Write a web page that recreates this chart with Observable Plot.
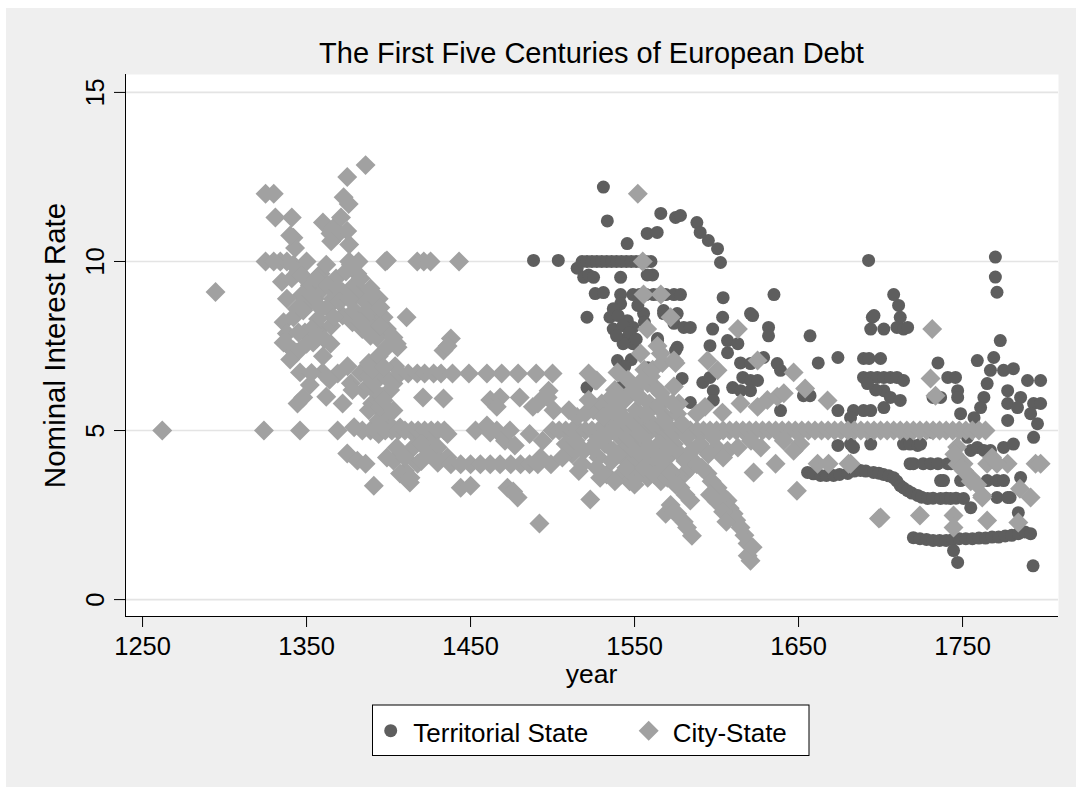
<!DOCTYPE html>
<html><head><meta charset="utf-8">
<script src="https://cdn.jsdelivr.net/npm/d3@7"></script>
<script src="https://cdn.jsdelivr.net/npm/@observablehq/plot@0.6"></script>
<style>
body{margin:0;background:#fff;}
#wrap{position:relative;width:1076px;height:787px;overflow:hidden;font-family:"Liberation Sans",Arial,Helvetica,sans-serif;}
#panel{position:absolute;left:6px;top:8px;width:1070px;height:779px;background:#efefef;}
#chart{position:absolute;left:0;top:0;}
#overlay{position:absolute;left:0;top:0;pointer-events:none;}
</style>
</head><body>
<div id="wrap"><div id="panel"></div><div id="chart"></div>
<svg id="overlay" width="1076" height="787" font-family="Liberation Sans, Arial, Helvetica, sans-serif"></svg></div>
<script>
const titleText = "The First Five Centuries of European Debt";
const xLabel = "year";
const yLabel = "Nominal Interest Rate";
const seriesNames = ["Territorial State", "City-State"];
const xTicks = [1250, 1350, 1450, 1550, 1650, 1750];
const yTicks = [0, 5, 10, 15];

// Territorial State: [year, nominal interest rate]
const territorial = [
[1488.4,10.03],[1503.5,10.03],[1515,9.8],
[1518,10],[1521,10],[1524,10],[1527,10],[1530,10],[1533,10],[1536,10],[1539,10],[1542,10],[1545,10],[1548,10],[1551,10],[1554,10],[1557,10],[1560,10],
[1531,12.2],[1533.4,11.2],[1545.5,10.53],[1557.7,10.83],[1563.8,10.86],[1566,11.42],[1575,11.3],[1578,11.36],[1588,11.15],[1590,10.86],[1595,10.62],[1600.6,10.38],[1602.4,9.97],[1561,9.6],
[1519,9.53],[1522,9.6],[1525,9.53],[1541.5,9.53],[1557.7,9.6],[1526,9.05],[1531,9.08],[1541.5,9.02],[1541.5,8.75],
[1549,9.02],[1553,9.02],[1557,9.02],[1561.6,9.02],[1565,9.02],[1569,9.02],[1574,9.02],[1578,9.02],
[1521,8.35],[1535,8.35],[1537,8.0],[1545.6,8.25],[1549,8.05],[1555.5,8.46],[1545.6,7.75],[1549,7.57],[1543,7.57],[1567.7,8.46],[1574,8.17],[1576,7.46],[1564,7.72],[1539.6,7.07],[1558,6.86],[1521,6.27],[1541.5,6.27],[1549,6.27],[1545,6.3],
[1537,8.6],[1540,8.4],[1543,8.1],[1547,7.9],[1551,7.7],[1553,7.3],[1548,7.1],[1544,6.9],[1552,8.7],[1556,8.2],[1539,7.8],
[1604,8.93],[1635,9.02],[1708,9.02],[1711,8.7],[1712,8.35],[1710,8.05],[1695,8.35],[1694,8.0],[1702,8.0],[1714,8.0],[1716.5,8.05],[1622,8.4],[1603.7,8.35],[1567.7,8.55],[1576,8.46],[1580,8.05],[1584,8.05],[1597.6,8.0],[1631.7,8.05],[1631.7,7.8],[1657,7.8],[1606.7,7.66],[1613,7.57],[1606.7,7.3],[1564,7.66],[1575,7.37],[1596,7.51],[1662,7.0],[1674,7.16],[1614.6,7.0],[1620.7,6.98],[1628.7,7.16],[1637,6.98],[1639,6.78],[1620.7,8.46],
[1689.6,7.13],[1693,7.13],[1700,7.13],[1689.6,6.57],[1694,6.57],[1698,6.57],[1702,6.57],[1706,6.57],[1710,6.57],[1714,6.48],[1702,6.18],[1697,6.2],[1706,5.98],[1702,5.68],[1712,5.89],[1692,6.39],[1735,7.0],[1741,6.57],[1732,5.98],[1736.6,5.98],
[1579,6.54],[1591.6,6.42],[1596,6.57],[1598,6.18],[1598,5.89],[1584,5.83],[1609.8,6.27],[1614.6,6.18],[1616,6.57],[1620.7,6.48],[1620.7,6.18],[1625,6.48],[1653,6.03],[1657,6.03],[1674,5.59],[1683.5,5.59],[1689.6,5.59],[1694,5.59],[1639,5.59],
[1681.7,5.38],[1681.7,4.6],[1683.5,4.5],[1694,4.6],[1674,4.56],[1714,4.6],[1718,4.6],[1722.6,4.56],[1724.4,4.6],
[1716,4.95],[1720,5.0],[1726,5.0],[1731,4.95],
[1718,4.02],[1720,4.02],[1726,4.02],[1730.5,4.02],[1735,4.02],[1741,4.02],[1743,4.02],[1736.6,3.52],
[1655.5,3.76],[1659,3.72],[1663.4,3.67],[1667,3.67],[1671.3,3.67],[1675,3.7],[1680,3.73],[1684,3.8],[1687.8,3.82],[1691,3.8],[1695.7,3.76],[1699,3.74],[1701.8,3.7],[1705,3.66],[1708,3.6],[1710,3.5],[1712,3.37],[1714,3.3],[1716.5,3.22],[1719,3.15],[1722.6,3.08],[1725,3.03],[1728.7,2.99],[1732,3.0],[1736.6,2.99],[1740,3.0],[1742.7,2.99],[1746,3.0],[1750.6,2.99],[1755,2.72],
[1720,1.83],[1724,1.8],[1728,1.78],[1732,1.75],[1736,1.75],[1740,1.75],[1744,1.78],[1748,1.8],[1752,1.8],[1756,1.8],[1760,1.82],[1764,1.82],[1768,1.85],[1772,1.85],[1776,1.88],[1780,1.9],[1784,1.95],[1788,2.0],[1791.5,1.95],
[1744.5,1.45],[1747,1.1],[1793,1.0],[1784,2.57],
[1692.7,10.03],[1770,10.13],[1770,9.54],[1771,9.09],[1696,8.4],
[1745.7,6.57],[1747,6.18],[1747,5.98],[1748.8,5.5],[1759,7.07],[1769,7.16],[1773,7.66],[1765,6.39],[1767,6.78],[1775,6.78],[1781,6.83],[1763,5.98],[1761,5.68],[1757,5.38],[1789.6,6.48],[1797.6,6.48],[1777.5,6.18],[1785.4,5.98],[1793.3,5.8],[1777.5,5.8],[1797.6,5.8],[1783.5,5.68],[1777.5,5.3],[1791.5,5.5],[1795.7,5.2],[1793.3,4.8],
[1753,4.8],[1755,4.41],[1759,4.5],[1763,4.41],[1767,4.41],[1775,4.5],[1781,4.6],[1771,4.02],[1777.5,4.02],[1785.4,3.61],
[1738.4,3.52],[1748.8,3.52],[1765,3.52],[1771,3.52],[1775,3.52],[1779,3.02],[1771,3.02],[1777.5,3.02]
];

// City-State: [year, nominal interest rate]
const cityState = [
[1262,5.0],[1294.5,9.1],
[1325,12.0],[1330,12.0],[1331,11.3],[1341,11.3],[1342,10.7],[1343,10.4],[1340,10.77],
[1325,10.0],[1334,10.0],[1338,10.0],[1342,9.9],[1350,10.0],[1345,9.7],[1330,10.0],[1376,10.0],
[1324,5.0],[1346,5.0],[1369,5.0],[1379,5.1],[1384,5.0],[1389,5.0],[1394,4.9],
[1360,11.15],[1366.5,11.0],[1371,11.3],[1372.6,11.9],[1375.7,11.7],[1374.8,12.5],[1386,12.85],[1374.8,10.9],[1369,10.8],[1364.6,10.83],
[1365,10.6],[1376,10.5],[1358.5,9.64],[1362,9.9],[1381,9.64],[1379,9.3],[1381.7,10.0],[1398,10.0],
[1352,9.3],[1385,9.05],[1355,8.9],[1360,9.2],[1368,9.5],[1372,9.1],[1347,9.0],
[1335,9.4],[1338,8.9],[1341,9.5],[1344,8.6],[1347,9.6],[1350,8.7],[1353,9.0],[1356,9.5],[1359,8.6],[1363,9.3],[1366,8.9],[1369,9.2],[1372,8.4],
[1336,8.2],[1339,7.5],[1344,7.3],[1349,7.9],[1354,7.6],[1358,8.0],[1361,7.7],[1365,8.1],
[1374,9.7],[1377,9.9],[1380,9.0],[1383,9.5],[1386,8.8],[1389,9.2],[1392,8.6],[1394,8.9],[1378,8.2],[1384,8.0],[1388,8.3],[1399,8.0],
[1342,8.35],[1338,7.87],[1348,8.55],[1362.8,8.64],[1366.5,8.35],[1379,8.55],[1387,8.55],[1397,8.35],[1370,8.8],[1376,8.9],[1383,8.2],[1390,8.0],[1357,8.3],[1353,8.0],
[1342,7.37],[1350,7.57],[1356.7,7.75],[1364.6,7.57],[1393,7.75],[1345,7.9],[1336,7.6],[1389,7.8],[1395,8.1],[1360,7.2],[1340,7.1],
[1346,6.72],[1359.8,6.72],[1369,6.69],[1377,6.4],[1383,6.7],[1388,6.6],[1393,6.9],[1375,6.9],[1353,6.7],[1364,6.5],
[1348,5.98],[1344.5,5.8],[1385,6.2],[1390,5.8],[1393,6.1],[1397,5.5],[1352,6.35],[1362,6.0],[1372,5.8],[1378,6.2],[1388,5.6],[1394,5.3],[1400,5.2],
[1388,7.0],[1391,6.4],[1394,7.2],[1396,6.0],[1398,6.6],[1400,5.6],[1401,6.2],[1404,6.9],[1392,5.0],[1395,5.7],[1390,6.8],
[1374.8,4.32],[1381,4.11],[1386,4.02],[1391,3.37],[1403,4.11],
[1399,10.03],[1417.5,10.0],[1421.5,10.0],[1425.6,10.0],[1443,10.0],
[1411,8.35],[1403,7.75],[1395,8.64],[1405.5,7.46],[1399,7.46],[1405,7.57],[1397,6.87],[1403,6.39],[1397,5.89],[1403,5.59],[1407,5.09],
[1433.5,7.37],[1438,7.72],[1436,7.5],
[1407,6.69],[1412,6.69],[1417.5,6.69],[1422,6.69],[1427.5,6.69],[1432,6.69],[1439,6.69],[1449,6.69],[1460,6.69],[1469,6.69],[1479,6.69],[1490,6.69],[1500,6.69],
[1421,5.98],[1433.5,5.95],
[1399,4.2],[1407,3.73],[1413,3.46],[1417.7,4.02],[1410,3.8],[1413.4,3.6],
[1415.5,4.9],[1425.6,4.7],[1436,4.9],[1427.4,4.32],[1436,4.2],
[1398,5.0],[1402,5.0],[1406,5.0],[1410,5.0],[1414,5.0],[1418,5.0],[1422,5.0],[1426,5.0],[1430,5.0],[1434,5.0],
[1405,4.5],[1415,4.5],[1420,4.6],[1430,4.5],[1410,4.2],[1420,4.1],[1430,4.05],[1424,4.3],
[1438,4.0],[1444,4.0],[1450,4.0],[1456,4.0],[1462,4.0],[1468,4.0],[1474.5,4.0],[1480.5,4.0],[1486,4.0],[1491,4.0],[1499,4.0],
[1453,5.0],[1460,5.15],[1462,4.94],[1466,5.0],[1471,4.7],[1477,4.56],[1474,5.0],[1486,4.9],[1494,4.7],[1500,5.0],
[1462,5.9],[1468,5.98],[1466,5.7],[1480,5.98],[1488,5.7],[1497,5.98],[1500.6,5.6],[1497.6,6.18],[1491,5.8],[1494.5,5.98],[1492.7,4.2],
[1444,3.31],[1450,3.37],[1472.5,3.31],[1478.7,3.02],[1476,3.2],[1492,2.25],[1523,2.96],
[1504,5.0],[1508,5.0],[1512,5.0],[1516,5.0],[1520,5.0],[1524,5.0],[1528,5.0],[1532,5.0],[1536,5.0],[1540,5.0],[1544,5.0],[1548,5.0],[1552,5.0],[1556,5.0],[1560,5.0],[1564,5.0],[1568,5.0],[1572,5.0],[1576,5.0],[1580,5.0],[1584,5.0],[1588,5.0],[1592,5.0],[1596,5.0],[1600,5.0],[1604,5.0],[1608,5.0],[1612,5.0],[1616,5.0],[1620,5.0],[1624,5.0],[1628,5.0],[1632,5.0],[1636,5.0],[1640,5.0],[1644,5.0],[1648,5.0],[1652,5.0],[1656,5.0],[1660,5.0],[1664,5.0],[1668,5.0],[1672,5.0],[1676,5.0],[1680,5.0],[1684,5.0],[1688,5.0],[1692,5.0],[1696,5.0],[1700,5.0],[1704,5.0],[1708,5.0],[1712,5.0],[1716,5.0],[1720,5.0],[1724,5.0],[1728,5.0],[1732,5.0],[1736,5.0],[1740,5.0],[1744,5.0],[1748,5.0],[1752,5.0],[1756,5.0],[1760,5.0],[1764,5.0],
[1508,4.6],[1512,4.3],[1515,5.4],[1518,4.0],[1520,5.5],[1522,6.69],[1524,4.5],[1525,5.6],[1526,6.48],[1528,4.2],[1530,5.8],[1532,4.6],[1533,3.7],[1535,5.3],[1537,4.4],[1538,6.2],[1539.6,6.72],[1540,5.6],[1541,4.8],[1542,3.7],[1543,4.2],[1544,5.9],[1545,4.5],[1546,6.5],[1547,3.5],[1548,5.3],[1549,4.0],[1550,4.7],[1551,5.6],[1552,3.8],[1553,6.0],[1554,4.3],[1555,5.4],[1556,6.8],[1557,4.6],[1558,3.6],[1559,5.8],[1560,4.1],[1561,5.2],[1562,6.3],[1563,4.4],[1564,5.7],[1565,3.9],[1566,6.1],[1567,4.7],[1569,5.4],[1570,4.2],[1572,3.8],[1574,4.6],[1576,5.5],[1578,4.3],[1580,3.7],[1582,4.8],
[1536,4.1],[1530,4.9],[1527,3.9],[1545,3.9],[1550,6.2],[1558,6.4],[1548,4.5],[1555,4.9],[1560,6.6],[1568,5.9],[1571,5.1],[1574,6.3],[1577,5.8],[1566,3.5],[1551,3.6],[1556,3.9],
[1506,4.2],[1510,5.6],[1514,4.7],[1516,3.8],[1519,4.4],[1522,5.9],[1527,4.7],[1529,3.6],[1531,5.4],[1534,4.9],[1538,3.5],[1540,4.3],[1543,5.4],[1546,4.8],[1550,3.4],[1553,4.9],[1557,5.5],[1559,4.3],[1562,3.7],[1565,4.6],[1568,5.3],[1571,4.5],[1573,5.8],[1576,3.6],[1579,5.2],[1581,4.1],[1584,3.9],[1536,6.0],[1541,5.9],
[1537,5.6],[1543,5.9],[1549,6.2],[1555,6.5],[1561,6.8],[1567,7.0],[1527,6.48],
[1552,12.0],[1555,10.0],[1555.5,9.02],[1566,9.02],[1557.7,8.0],[1572,8.35],[1566,7.28],[1574,7.07],[1575,7.0],[1564,7.5],[1553.7,7.28],
[1594.5,7.07],[1600.6,6.78],[1613,8.0],[1625,7.07],[1647,6.72],[1654,6.24],[1667.7,5.89],
[1603.6,5.53],[1614.6,5.8],[1625,5.7],[1631,5.9],[1637,6.0],[1641,6.1],
[1606.7,4.4],[1613,4.5],[1621,4.7],[1627,4.5],[1641,4.7],[1651,4.6],[1636,4.02],[1647,4.4],[1661.6,4.02],[1668.3,4.02],[1680.5,4.02],[1622.6,3.76],[1649,3.22],[1699,2.4],[1724,2.49],
[1566,4.2],[1568,3.9],[1570,3.6],[1572,3.73],[1575,3.4],[1578,3.31],[1581,3.1],[1584,2.93],[1576,2.54],[1580,2.3],[1582,2.13],[1585,1.89],[1569,2.54],[1572,2.8],[1574,2.6],
[1588,4.0],[1591,3.9],[1594.5,3.73],[1597,3.5],[1600.6,3.31],[1603,3.1],[1606.7,2.93],[1608,2.7],[1610.4,2.54],[1612,2.35],[1614.6,2.13],[1617,1.9],[1618.9,1.66],[1620.7,1.15],[1619,1.3],[1622,1.55],[1596,3.1],[1600,2.9],[1604,2.6],[1606,2.3],
[1585,4.4],[1590,4.6],[1595,4.3],[1600,4.5],[1604,4.2],[1588,5.5],[1593,5.7],[1598,4.8],
[1731.5,8.0],[1730.5,6.54],[1733.5,6.03],[1746.7,4.51],[1750.6,4.02],[1755,3.61],[1765,4.02],[1777.5,4.02],[1794.5,4.02],[1797.6,4.02],[1762,3.02],[1785,3.28],[1791.5,3.02],[1744.5,2.49],[1744.5,2.13],[1765,2.34],[1784,2.28],[1681.7,4.02],[1747,4.0],[1751,3.8],[1755,3.5],[1759,3.4],[1771,4.02],[1762,3.08],[1700,2.43],[1745,4.3],[1768,4.2]
];

const xDomain = [1239.6, 1808.5];
const yDomain = [-0.5, 15.53];
const colTerr = "#5e5e5e";
const colCity = "#a1a1a1";

const terrData = territorial.map(([year, rate]) => ({year, rate}));
const cityData = cityState.map(([year, rate]) => ({year, rate}));

const chart = Plot.plot({
  width: 1076, height: 787,
  marginLeft: 125, marginRight: 18, marginTop: 74, marginBottom: 171,
  style: {background: "transparent", fontFamily: "Liberation Sans, Arial, Helvetica, sans-serif", fontSize: "25.5px", color: "#000", overflow: "visible"},
  x: {domain: xDomain, label: null},
  y: {domain: yDomain, label: null},
  marks: [
    Plot.frame({fill: "white", stroke: "none"}),
    Plot.ruleY(yTicks, {stroke: "#e4e4e4", strokeWidth: 1.6}),
    Plot.ruleX([xDomain[0]], {stroke: "#000", strokeWidth: 1}),
    Plot.ruleY([yDomain[0]], {stroke: "#000", strokeWidth: 1}),
    Plot.axisX({ticks: xTicks, tickSize: 11, tickPadding: 9, tickFormat: d => String(d), label: null}),
    Plot.axisY({ticks: yTicks, tickSize: 11, tickPadding: 11, tickRotate: -90, tickFormat: d => String(d), label: null}),
    Plot.dot(terrData, {x: "year", y: "rate", r: 6.5, symbol: "circle", fill: colTerr, stroke: "none"}),
    Plot.dot(cityData, {x: "year", y: "rate", r: 9, symbol: "diamond2", fill: colCity, stroke: "none"})
  ]
});
document.getElementById("chart").appendChild(chart);

const ov = d3.select("#overlay");
ov.append("text").attr("x", 591.5).attr("y", 63).attr("text-anchor", "middle").attr("font-size", 29).text(titleText);
ov.append("text").attr("x", 591.5).attr("y", 683).attr("text-anchor", "middle").attr("font-size", 26.5).text(xLabel);
ov.append("text").attr("transform", "translate(65,345.5) rotate(-90)").attr("text-anchor", "middle").attr("font-size", 29.5).text(yLabel);
const lg = ov.append("g");
lg.append("rect").attr("x", 372.5).attr("y", 705).attr("width", 436.5).attr("height", 50.5).attr("fill", "white").attr("stroke", "#000").attr("stroke-width", 1);
lg.append("circle").attr("cx", 390.7).attr("cy", 730.7).attr("r", 6.5).attr("fill", colTerr);
lg.append("path").attr("d", "M648.7,720.7L658.7,730.7L648.7,740.7L638.7,730.7Z").attr("fill", colCity);
lg.append("text").attr("x", 413.3).attr("y", 741.7).attr("font-size", 26).text(seriesNames[0]);
lg.append("text").attr("x", 672.7).attr("y", 741.7).attr("font-size", 26).text(seriesNames[1]);
</script>
</body></html>
